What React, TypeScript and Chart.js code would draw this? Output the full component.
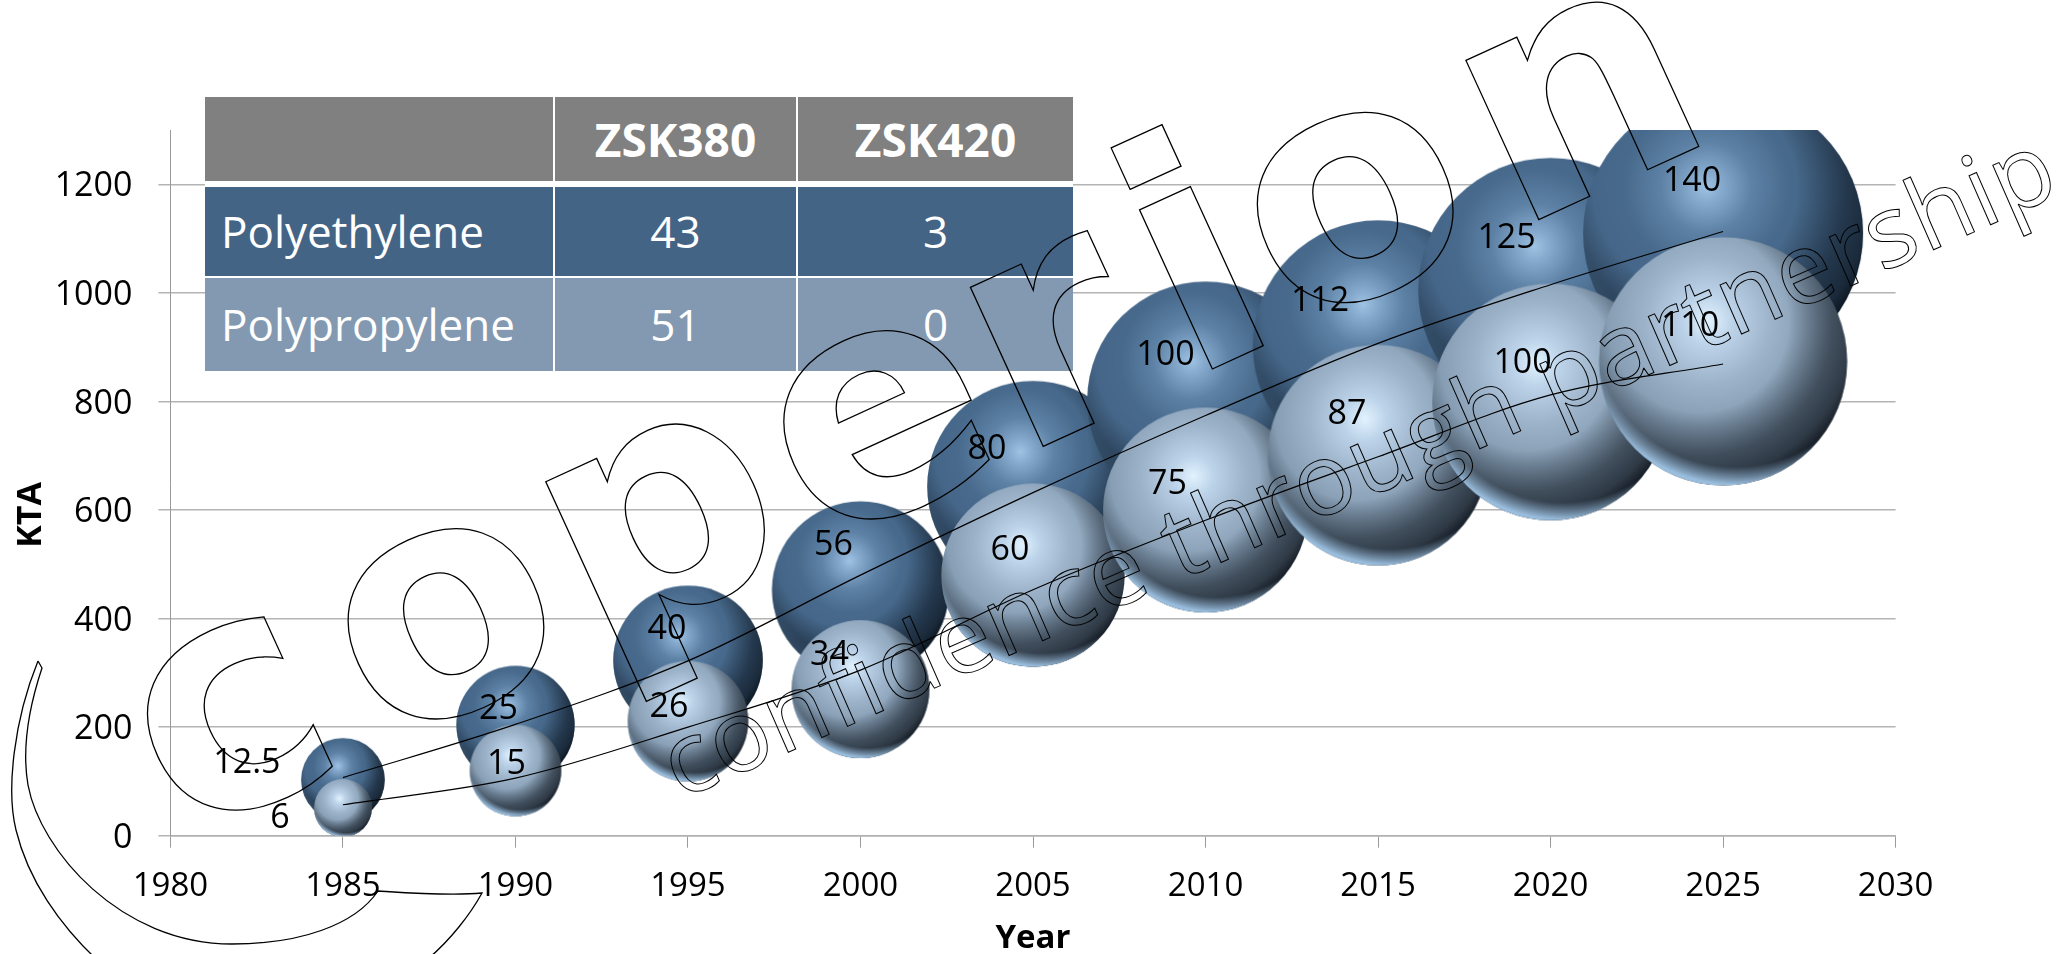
import React, { useEffect, useRef } from "react";
import { Chart, registerables } from "chart.js";

Chart.register(...registerables);

const years = [1985, 1990, 1995, 2000, 2005, 2010, 2015, 2020, 2025];
const peY = [103, 204, 323, 453, 643, 803, 903, 1005, 1110];
const peSize = [12.5, 25, 40, 56, 80, 100, 112, 125, 140];
const ppY = [51, 120, 211, 270, 480, 600, 701, 799, 874];
const ppSize = [6, 15, 26, 34, 60, 75, 87, 100, 110];
const peTrend = [107, 205, 322, 480, 632, 774, 907, 1015, 1113];
const ppTrend = [57, 106, 200, 305, 453, 581, 698, 812, 869];
const yTicksMax = 1300;

const tableHead = ["", "ZSK380", "ZSK420"];
const tableRows = [
  ["Polyethylene", "43", "3"],
  ["Polypropylene", "51", "0"],
];

const FONT = "'Open Sans', sans-serif";
const R_PER_SQRT = 11.83;

// label offsets from each bubble centre, in pixels
const peLabelOffset = [[-96, -16], [-17, -16], [-21, -31], [-27, -44], [-46, -37], [-40, -44], [-58, -44], [-44, -52], [-31, -52]];
const ppLabelOffset = [[-63, 10], [-9, -6], [-19, -14], [-31, -34], [-23, -25], [-38, -26], [-31, -41], [-28, -39], [-33, -35]];

type Palette = { stops: [number, string][]; shade: string; shadeMid: number; rim: string; rimA: number };
const darkPalette: Palette = {
  stops: [[0, "#a0c3e4"], [0.08, "#86abce"], [0.24, "#5d82a6"], [0.44, "#486a8c"], [0.75, "#436385"], [1, "#3f5d7c"]],
  shade: "6,14,22",
  shadeMid: 0.5,
  rim: "96,135,170",
  rimA: 0.3,
};
const lightPalette: Palette = {
  stops: [[0, "#e2f3ff"], [0.15, "#bcd3e9"], [0.38, "#9db3c9"], [0.65, "#8299af"], [1, "#6b8094"]],
  shade: "14,20,28",
  shadeMid: 0.52,
  rim: "160,197,230",
  rimA: 0.95,
};

function sphere(size: number, p: Palette) {
  const rx = R_PER_SQRT * Math.sqrt(size);
  const cv = document.createElement("canvas");
  cv.width = Math.ceil(rx * 2) + 2;
  cv.height = cv.width;
  const c = cv.getContext("2d")!;
  c.translate(cv.width / 2, cv.height / 2);
  c.scale(rx, rx);
  c.beginPath();
  c.arc(0, 0, 1, 0, Math.PI * 2);
  c.clip();
  const base = c.createRadialGradient(-0.12, -0.33, 0, -0.12, -0.33, 1.35);
  p.stops.forEach(([o, col]) => base.addColorStop(o, col));
  c.fillStyle = base;
  c.fillRect(-1.1, -1.1, 2.2, 2.2);
  const shade = c.createRadialGradient(-0.2, -0.32, 0, -0.2, -0.32, 1.4);
  shade.addColorStop(0, `rgba(${p.shade},0)`);
  shade.addColorStop(0.52, `rgba(${p.shade},0)`);
  shade.addColorStop(0.77, `rgba(${p.shade},${p.shadeMid})`);
  shade.addColorStop(0.9, `rgba(${p.shade},${p.shadeMid + 0.15})`);
  shade.addColorStop(1, `rgba(${p.shade},1)`);
  c.fillStyle = shade;
  c.fillRect(-1.1, -1.1, 2.2, 2.2);
  const rim = c.createRadialGradient(0.1, -0.3, 0, 0.1, -0.3, 1.42);
  rim.addColorStop(0, `rgba(${p.rim},0)`);
  rim.addColorStop(0.81, `rgba(${p.rim},0)`);
  rim.addColorStop(0.91, `rgba(${p.rim},${p.rimA})`);
  rim.addColorStop(1, `rgba(${p.rim},${p.rimA})`);
  c.fillStyle = rim;
  c.fillRect(-1.1, -1.1, 2.2, 2.2);
  return cv;
}

const labelsPlugin = {
  id: "bubbleLabels",
  afterDatasetsDraw(chart: any) {
    const { ctx, scales } = chart;
    ctx.save();
    ctx.font = `34px ${FONT}`;
    ctx.fillStyle = "#000";
    ctx.textAlign = "center";
    ctx.textBaseline = "middle";
    const put = (ys: number[], sizes: number[], offs: number[][]) =>
      years.forEach((yr, i) => {
        ctx.fillText(String(sizes[i]), scales.x.getPixelForValue(yr) + offs[i][0], scales.y.getPixelForValue(ys[i]) + offs[i][1]);
      });
    put(peY, peSize, peLabelOffset);
    put(ppY, ppSize, ppLabelOffset);
    ctx.font = `bold 34px ${FONT}`;
    ctx.translate(31, 515);
    ctx.rotate(-Math.PI / 2);
    ctx.fillText("KTA", 0, 0);
    ctx.restore();
  },
};

export default function App() {
  const ref = useRef<HTMLCanvasElement>(null);
  useEffect(() => {
    document.body.style.margin = "0";
    const pePoints = years.map((x, i) => ({ x, y: peY[i], r: R_PER_SQRT * Math.sqrt(peSize[i]) }));
    const ppPoints = years.map((x, i) => ({ x, y: ppY[i], r: R_PER_SQRT * Math.sqrt(ppSize[i]) }));
    const peStyles = peSize.map((s) => sphere(s, darkPalette));
    const ppStyles = ppSize.map((s) => sphere(s, lightPalette));
    const grey = "#b4b4b4";
    const chart = new Chart(ref.current!, {
      type: "bubble",
      data: {
        datasets: [
          { label: "Polyethylene", data: pePoints, order: 3, pointStyle: (c: any) => peStyles[c.dataIndex], backgroundColor: "#466688", borderWidth: 0 } as any,
          { label: "Polypropylene", data: ppPoints, order: 2, pointStyle: (c: any) => ppStyles[c.dataIndex], backgroundColor: "#8199b1", borderWidth: 0 } as any,
          { type: "line", label: "PE trend", data: years.map((x, i) => ({ x, y: peTrend[i] })), order: 1, borderColor: "#000", borderWidth: 1.2, pointRadius: 0, cubicInterpolationMode: "monotone", fill: false } as any,
          { type: "line", label: "PP trend", data: years.map((x, i) => ({ x, y: ppTrend[i] })), order: 1, borderColor: "#000", borderWidth: 1.2, pointRadius: 0, cubicInterpolationMode: "monotone", fill: false } as any,
        ],
      },
      options: {
        animation: false,
        responsive: false,
        devicePixelRatio: 1,
        layout: { autoPadding: false, padding: { top: 130, right: 166.4, left: 0, bottom: 0 } },
        plugins: { legend: { display: false }, tooltip: { enabled: false } },
        scales: {
          x: {
            type: "linear",
            min: 1980,
            max: 2030,
            afterFit: (s: any) => { s.height = 118.3; },
            ticks: { stepSize: 5, color: "#000", padding: 19, maxRotation: 0, font: { family: FONT, size: 33 }, callback: (v: any) => String(v) },
            grid: { drawOnChartArea: false, tickLength: 12, color: "#9a9a9a", lineWidth: 1 },
            border: { color: "#b0b0b0", width: 1.5 },
            title: { display: true, text: "Year", color: "#000", padding: { top: 0, bottom: -4 }, font: { family: FONT, size: 33, weight: "bold" } },
          },
          y: {
            type: "linear",
            min: 0,
            max: yTicksMax,
            afterFit: (s: any) => { s.width = 170.4; },
            ticks: { stepSize: 200, includeBounds: false, color: "#000", padding: 26, labelOffset: 2.5, font: { family: FONT, size: 34 }, callback: (v: any) => String(v) },
            grid: { tickLength: 12, color: grey, lineWidth: 1.5 },
            border: { color: "#9a9a9a", width: 1 },
          },
        },
      },
      plugins: [labelsPlugin],
    } as any);
    return () => chart.destroy();
  }, []);

  const cell: React.CSSProperties = { color: "#fff", textAlign: "center", padding: 0, borderLeft: "2px solid #fff", font: `44px ${FONT}` };
  return (
    <div style={{ position: "absolute", left: 0, top: 0, width: 2062, height: 954, overflow: "hidden", background: "#fff" }}>
      <canvas ref={ref} width={2062} height={954} style={{ position: "absolute", left: 0, top: 0 }} />
      <table style={{ position: "absolute", left: 205, top: 97, width: 868, height: 274, borderCollapse: "collapse", tableLayout: "fixed", background: "#fff" }}>
        <colgroup>
          <col style={{ width: 349 }} />
          <col style={{ width: 243 }} />
          <col style={{ width: 276 }} />
        </colgroup>
        <tbody>
          <tr style={{ height: 85 }}>
            {tableHead.map((t, i) => (
              <td key={i} style={{ ...cell, background: "#808080", fontWeight: 700, fontSize: 46, borderBottom: "6px solid #fff", borderLeft: i ? cell.borderLeft : "none" }}>{t}</td>
            ))}
          </tr>
          {tableRows.map((row, r) => (
            <tr key={r} style={{ height: r ? 92 : 91 }}>
              {row.map((t, i) => (
                <td key={i} style={{ ...cell, background: r ? "#8399b1" : "#446486", textAlign: i ? "center" : "left", paddingLeft: i ? 0 : 16, borderLeft: i ? cell.borderLeft : "none", borderBottom: r ? "none" : "2px solid #fff" }}>{t}</td>
              ))}
            </tr>
          ))}
        </tbody>
      </table>
      <svg width={2062} height={954} style={{ position: "absolute", left: 0, top: 0, pointerEvents: "none" }}>
        <g fill="none" stroke="#000" strokeWidth={1.3}>
          <text transform="translate(170.5 846) rotate(-24.6)" x="12 233 466 712 933 1119 1233 1478" fontFamily="'DejaVu Sans', sans-serif" fontWeight={700} fontSize={320}>coperion</text>
          <text transform="translate(680 800) rotate(-23.7)" textLength={1510} fontFamily={FONT} fontSize={100} strokeWidth={1}>confidence through partnership</text>
          <path d="M38 661 C14 720 6 790 16 830 C28 880 60 925 97 960 M38 661 L42 668 C28 710 22 750 28 785 C40 850 120 944 232 944 C300 944 355 925 378 891 C410 893 450 896 482 893 C470 915 450 940 429 958" />
        </g>
      </svg>
    </div>
  );
}
